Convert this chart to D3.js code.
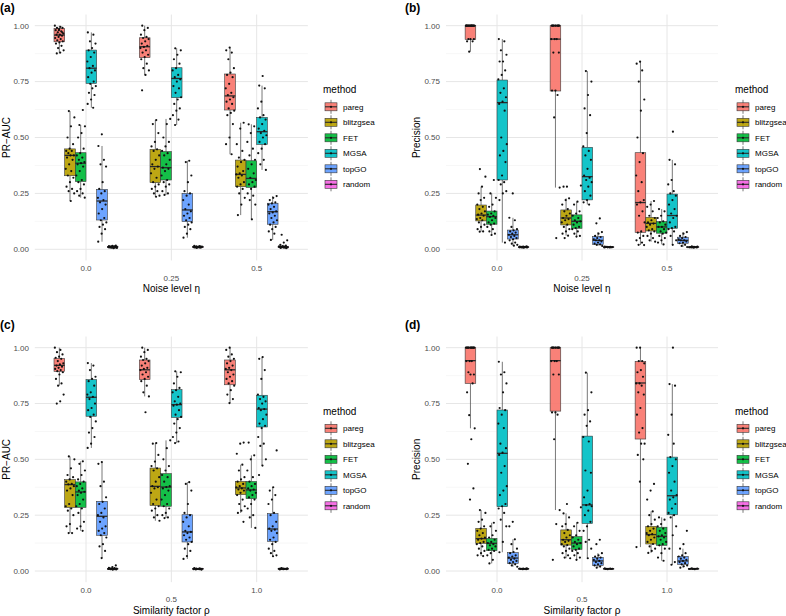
<!DOCTYPE html>
<html><head><meta charset="utf-8">
<script src="https://cdn.jsdelivr.net/npm/d3@7"></script>
<style>body{margin:0;background:#fff} text{font-family:"Liberation Sans",Arial,Helvetica,sans-serif}</style>
</head><body>
<svg id="chart" width="786" height="616"></svg>
<script>
const methods = ["pareg","blitzgsea","FET","MGSA","topGO","random"];
const methodColors = ["#F8766D","#B79F00","#00BA38","#00BFC4","#619CFF","#F564E3"];
const noiseLevels = ["0.0","0.25","0.5"];
const similarityFactors = ["0.0","0.5","1.0"];
const yTicks = [0,0.25,0.5,0.75,1];
const yTickLabels = ["0.00","0.25","0.50","0.75","1.00"];
const yMinor = [0.125,0.375,0.625,0.875];

// box stats: [lower whisker, q1, median, q3, upper whisker], per category, per method
const aucNoiseStats = [
 [[0.876,0.928,0.958,0.988,1.0],[0.216,0.329,0.42,0.449,0.618],[0.231,0.303,0.385,0.432,0.556],[0.633,0.742,0.81,0.891,0.97],[0.034,0.131,0.216,0.268,0.462],[0.005,0.008,0.01,0.013,0.016]],
 [[0.779,0.857,0.906,0.946,1.0],[0.235,0.298,0.37,0.447,0.578],[0.243,0.31,0.365,0.437,0.583],[0.556,0.678,0.764,0.812,0.899],[0.052,0.124,0.176,0.25,0.396],[0.006,0.008,0.01,0.012,0.015]],
 [[0.425,0.623,0.686,0.784,0.902],[0.153,0.28,0.335,0.399,0.566],[0.134,0.277,0.317,0.396,0.559],[0.355,0.469,0.526,0.59,0.732],[0.042,0.112,0.168,0.206,0.238],[0.005,0.008,0.01,0.013,0.02]]
];
const aucNoisePoints = [
 [[1.0,0.995,0.99,0.99,0.985,0.98,0.975,0.97,0.965,0.96,0.96,0.955,0.95,0.945,0.94,0.935,0.93,0.925,0.92,0.91,0.9,0.89,0.88,0.876,0.97,0.98],
  [0.618,0.59,0.55,0.5,0.47,0.45,0.44,0.44,0.43,0.42,0.42,0.41,0.4,0.38,0.36,0.35,0.33,0.32,0.3,0.28,0.27,0.26,0.25,0.216],
  [0.623,0.556,0.55,0.52,0.5,0.45,0.43,0.42,0.41,0.4,0.39,0.385,0.38,0.37,0.35,0.33,0.31,0.3,0.29,0.27,0.26,0.25,0.24,0.231],
  [0.97,0.96,0.93,0.92,0.9,0.89,0.88,0.86,0.84,0.82,0.81,0.8,0.79,0.77,0.75,0.74,0.73,0.72,0.7,0.69,0.67,0.65,0.633],
  [0.514,0.462,0.4,0.38,0.37,0.3,0.27,0.26,0.25,0.23,0.22,0.21,0.2,0.18,0.16,0.14,0.13,0.12,0.11,0.1,0.09,0.07,0.034],
  [0.016,0.015,0.014,0.013,0.013,0.012,0.012,0.011,0.011,0.01,0.01,0.01,0.009,0.009,0.008,0.008,0.007,0.007,0.006,0.005]],
 [[1.0,0.99,0.98,0.96,0.95,0.945,0.94,0.93,0.92,0.91,0.905,0.9,0.89,0.88,0.87,0.86,0.85,0.83,0.81,0.8,0.78,0.711],
  [0.578,0.56,0.52,0.48,0.46,0.447,0.44,0.42,0.4,0.38,0.37,0.36,0.34,0.32,0.3,0.29,0.28,0.27,0.26,0.25,0.24,0.235],
  [0.583,0.56,0.5,0.48,0.46,0.44,0.43,0.42,0.4,0.38,0.365,0.36,0.35,0.33,0.31,0.3,0.29,0.28,0.26,0.25,0.243],
  [0.899,0.89,0.87,0.85,0.83,0.81,0.8,0.78,0.77,0.76,0.75,0.73,0.72,0.7,0.68,0.67,0.65,0.63,0.62,0.6,0.58,0.556],
  [0.396,0.39,0.33,0.3,0.26,0.25,0.24,0.22,0.2,0.18,0.17,0.16,0.15,0.14,0.13,0.12,0.11,0.1,0.09,0.07,0.052],
  [0.015,0.014,0.013,0.012,0.012,0.011,0.011,0.01,0.01,0.01,0.009,0.009,0.008,0.008,0.007,0.006]],
 [[0.902,0.89,0.88,0.85,0.81,0.79,0.78,0.77,0.74,0.72,0.7,0.69,0.68,0.67,0.66,0.65,0.63,0.62,0.61,0.6,0.56,0.5,0.47,0.425],
  [0.566,0.54,0.47,0.44,0.41,0.4,0.39,0.37,0.35,0.34,0.335,0.33,0.32,0.3,0.29,0.28,0.27,0.25,0.23,0.2,0.153],
  [0.559,0.55,0.52,0.48,0.45,0.42,0.4,0.38,0.36,0.34,0.32,0.31,0.3,0.29,0.28,0.27,0.25,0.24,0.22,0.2,0.134],
  [0.775,0.732,0.72,0.66,0.63,0.6,0.59,0.58,0.56,0.54,0.53,0.52,0.51,0.5,0.48,0.47,0.45,0.43,0.4,0.38,0.355],
  [0.238,0.23,0.22,0.21,0.205,0.2,0.19,0.18,0.17,0.165,0.16,0.15,0.14,0.13,0.12,0.11,0.1,0.09,0.08,0.07,0.042],
  [0.065,0.04,0.03,0.02,0.016,0.014,0.013,0.012,0.011,0.01,0.01,0.01,0.009,0.009,0.008,0.007,0.006,0.005]]
];

const precNoiseStats = [
 [[0.884,0.939,1.0,1.0,1.0],[0.079,0.127,0.153,0.198,0.28],[0.064,0.112,0.146,0.171,0.25],[0.03,0.31,0.656,0.757,0.94],[0.016,0.046,0.065,0.086,0.141],[0.007,0.008,0.01,0.011,0.013]],
 [[0.276,0.708,0.94,1.0,1.0],[0.061,0.109,0.14,0.176,0.228],[0.057,0.094,0.125,0.154,0.213],[0.2,0.221,0.325,0.456,0.797],[0.015,0.022,0.04,0.057,0.077],[0.008,0.009,0.01,0.011,0.012]],
 [[0.019,0.076,0.209,0.432,0.839],[0.034,0.082,0.116,0.143,0.216],[0.022,0.072,0.1,0.124,0.18],[0.02,0.094,0.151,0.247,0.4],[0.01,0.027,0.04,0.054,0.077],[0.007,0.008,0.01,0.011,0.013]]
];
const precNoisePoints = [
 [[1,1,1,1,1,1,1,1,1,1,1,1,1,1,1,0.94,0.94,0.94,0.93,0.93,0.884],
  [0.359,0.325,0.28,0.25,0.23,0.22,0.2,0.19,0.18,0.17,0.16,0.155,0.15,0.14,0.135,0.13,0.12,0.11,0.1,0.09,0.08,0.079],
  [0.31,0.25,0.23,0.2,0.19,0.17,0.16,0.155,0.15,0.145,0.14,0.13,0.12,0.115,0.11,0.1,0.09,0.08,0.07,0.064],
  [0.94,0.93,0.89,0.87,0.84,0.84,0.8,0.78,0.76,0.72,0.7,0.68,0.66,0.65,0.62,0.5,0.47,0.44,0.42,0.39,0.33,0.31,0.3,0.29,0.26,0.25,0.22,0.03],
  [0.25,0.141,0.13,0.1,0.09,0.085,0.08,0.075,0.07,0.065,0.06,0.055,0.05,0.045,0.04,0.03,0.025,0.02,0.016],
  [0.013,0.012,0.012,0.011,0.011,0.01,0.01,0.01,0.01,0.009,0.009,0.009,0.008,0.008,0.007]],
 [[1,1,1,1,1,1,1,1,1,1,0.94,0.94,0.94,0.88,0.88,0.71,0.71,0.69,0.59,0.276,0.05],
  [0.28,0.28,0.228,0.22,0.2,0.18,0.17,0.16,0.15,0.14,0.135,0.13,0.12,0.11,0.1,0.09,0.08,0.07,0.061,0.05],
  [0.285,0.213,0.2,0.17,0.16,0.15,0.14,0.13,0.125,0.12,0.11,0.1,0.095,0.09,0.08,0.07,0.06,0.057],
  [0.797,0.75,0.69,0.63,0.6,0.52,0.46,0.44,0.42,0.4,0.36,0.33,0.32,0.31,0.3,0.28,0.26,0.24,0.22,0.21,0.2],
  [0.138,0.116,0.077,0.07,0.06,0.055,0.05,0.045,0.04,0.04,0.035,0.03,0.025,0.022,0.02,0.015],
  [0.012,0.011,0.011,0.01,0.01,0.01,0.009,0.009,0.008,0.008]],
 [[0.839,0.83,0.8,0.75,0.67,0.62,0.5,0.43,0.39,0.33,0.3,0.26,0.22,0.21,0.2,0.17,0.15,0.12,0.08,0.075,0.06,0.05,0.04,0.03,0.02,0.019],
  [0.216,0.2,0.19,0.17,0.15,0.14,0.13,0.12,0.115,0.11,0.1,0.09,0.085,0.08,0.07,0.06,0.05,0.04,0.034],
  [0.18,0.17,0.15,0.14,0.125,0.12,0.11,0.1,0.1,0.09,0.08,0.075,0.07,0.06,0.05,0.04,0.03,0.022],
  [0.526,0.4,0.38,0.31,0.29,0.26,0.25,0.24,0.22,0.2,0.18,0.16,0.15,0.14,0.12,0.1,0.095,0.09,0.08,0.06,0.04,0.02],
  [0.077,0.07,0.06,0.055,0.05,0.045,0.04,0.04,0.035,0.03,0.027,0.02,0.015,0.01],
  [0.013,0.012,0.011,0.01,0.01,0.01,0.009,0.009,0.008,0.008,0.007]]
];

const aucSimStats = [
 [[0.83,0.894,0.921,0.951,1.0],[0.17,0.285,0.387,0.409,0.513],[0.18,0.285,0.354,0.399,0.491],[0.551,0.693,0.778,0.857,0.931],[0.058,0.16,0.245,0.312,0.488],[0.006,0.008,0.01,0.012,0.018]],
 [[0.782,0.857,0.901,0.945,1.0],[0.225,0.293,0.379,0.461,0.573],[0.237,0.29,0.376,0.436,0.585],[0.573,0.688,0.745,0.812,0.894],[0.054,0.13,0.175,0.252,0.398],[0.006,0.008,0.01,0.011,0.013]],
 [[0.752,0.834,0.901,0.945,1.0],[0.26,0.342,0.372,0.401,0.476],[0.193,0.324,0.363,0.401,0.518],[0.472,0.645,0.725,0.787,0.958],[0.066,0.133,0.188,0.257,0.375],[0.007,0.008,0.01,0.011,0.013]]
];
const aucSimPoints = [
 [[1.0,0.99,0.98,0.97,0.96,0.955,0.95,0.94,0.93,0.925,0.92,0.915,0.91,0.905,0.9,0.895,0.89,0.88,0.86,0.84,0.83,0.79,0.76,0.75],
  [0.513,0.5,0.46,0.43,0.42,0.41,0.4,0.39,0.388,0.38,0.37,0.36,0.34,0.3,0.29,0.28,0.27,0.25,0.21,0.2,0.17,0.17],
  [0.491,0.48,0.45,0.43,0.41,0.4,0.39,0.38,0.37,0.36,0.355,0.35,0.34,0.32,0.3,0.29,0.28,0.26,0.22,0.2,0.19,0.18],
  [0.931,0.92,0.9,0.87,0.86,0.85,0.83,0.8,0.79,0.78,0.77,0.75,0.73,0.72,0.7,0.69,0.67,0.64,0.62,0.6,0.57,0.551],
  [0.488,0.48,0.4,0.38,0.33,0.31,0.3,0.28,0.26,0.25,0.24,0.22,0.2,0.19,0.18,0.17,0.16,0.15,0.12,0.11,0.09,0.058],
  [0.025,0.018,0.014,0.013,0.012,0.011,0.01,0.01,0.01,0.009,0.009,0.008,0.008,0.007,0.006]],
 [[1.0,0.99,0.98,0.96,0.95,0.945,0.94,0.93,0.92,0.91,0.905,0.9,0.89,0.88,0.87,0.86,0.85,0.83,0.8,0.782,0.711],
  [0.573,0.57,0.52,0.49,0.47,0.46,0.45,0.42,0.4,0.38,0.375,0.37,0.35,0.32,0.3,0.29,0.28,0.27,0.25,0.24,0.225],
  [0.585,0.55,0.5,0.47,0.45,0.43,0.42,0.4,0.38,0.376,0.37,0.36,0.34,0.32,0.3,0.29,0.28,0.26,0.25,0.24,0.237],
  [0.894,0.89,0.87,0.84,0.82,0.81,0.8,0.78,0.76,0.75,0.745,0.74,0.72,0.7,0.69,0.68,0.66,0.64,0.62,0.6,0.58,0.573],
  [0.398,0.39,0.36,0.3,0.26,0.25,0.24,0.22,0.2,0.18,0.175,0.17,0.16,0.15,0.14,0.13,0.12,0.1,0.09,0.067,0.054],
  [0.013,0.012,0.011,0.01,0.01,0.01,0.009,0.009,0.008,0.008,0.007,0.006]],
 [[1.0,0.99,0.97,0.96,0.95,0.94,0.93,0.92,0.91,0.905,0.9,0.89,0.88,0.87,0.86,0.85,0.84,0.83,0.81,0.79,0.77,0.752],
  [0.575,0.57,0.525,0.476,0.45,0.42,0.41,0.4,0.39,0.38,0.375,0.37,0.365,0.36,0.35,0.34,0.32,0.3,0.29,0.27,0.26,0.22],
  [0.575,0.518,0.5,0.45,0.42,0.4,0.39,0.38,0.37,0.365,0.36,0.35,0.34,0.33,0.32,0.3,0.28,0.25,0.24,0.193],
  [0.958,0.95,0.9,0.86,0.79,0.78,0.77,0.76,0.75,0.73,0.725,0.72,0.7,0.68,0.66,0.65,0.64,0.6,0.57,0.56,0.5,0.472,0.43],
  [0.54,0.375,0.36,0.34,0.32,0.3,0.26,0.25,0.22,0.2,0.19,0.185,0.18,0.17,0.15,0.14,0.13,0.12,0.1,0.09,0.08,0.07,0.066],
  [0.013,0.012,0.011,0.011,0.01,0.01,0.01,0.009,0.009,0.008,0.008,0.007]]
];

const precSimStats = [
 [[0.639,0.84,0.942,1.0,1.0],[0.067,0.124,0.145,0.191,0.273],[0.034,0.091,0.124,0.146,0.216],[0.084,0.288,0.527,0.721,0.937],[0.019,0.034,0.058,0.082,0.142],[0.008,0.009,0.01,0.011,0.012]],
 [[0.273,0.716,0.942,1.0,1.0],[0.057,0.116,0.14,0.184,0.258],[0.05,0.097,0.125,0.154,0.216],[0.057,0.213,0.296,0.604,0.888],[0.015,0.025,0.045,0.061,0.08],[0.008,0.009,0.01,0.011,0.012]],
 [[0.107,0.591,0.842,0.939,1.0],[0.081,0.121,0.163,0.2,0.267],[0.046,0.115,0.155,0.196,0.24],[0.028,0.252,0.337,0.51,0.837],[0.015,0.03,0.045,0.065,0.1],[0.008,0.009,0.01,0.011,0.012]]
];
const precSimPoints = [
 [[1,1,1,1,1,1,1,1,1,1,1,1,0.94,0.94,0.94,0.89,0.88,0.88,0.8,0.84,0.698,0.639,0.59,0.48,0.37,0.32],
  [0.273,0.26,0.23,0.22,0.2,0.19,0.18,0.17,0.16,0.15,0.145,0.14,0.13,0.125,0.12,0.11,0.1,0.09,0.08,0.07,0.067],
  [0.216,0.2,0.18,0.16,0.15,0.14,0.13,0.125,0.12,0.115,0.11,0.1,0.095,0.09,0.08,0.07,0.05,0.034],
  [0.937,0.89,0.88,0.84,0.8,0.73,0.72,0.7,0.66,0.64,0.57,0.55,0.53,0.52,0.47,0.44,0.38,0.36,0.34,0.3,0.29,0.28,0.26,0.23,0.2,0.13,0.084],
  [0.22,0.2,0.142,0.12,0.1,0.085,0.08,0.07,0.065,0.06,0.055,0.05,0.045,0.04,0.035,0.03,0.025,0.019],
  [0.012,0.011,0.011,0.01,0.01,0.01,0.009,0.009,0.008,0.008]],
 [[1,1,1,1,1,1,1,1,1,1,0.94,0.94,0.94,0.88,0.88,0.71,0.71,0.7,0.59,0.273,0.21,0.05],
  [0.3,0.258,0.24,0.21,0.2,0.184,0.17,0.16,0.15,0.14,0.135,0.13,0.12,0.116,0.11,0.1,0.09,0.08,0.07,0.06,0.057],
  [0.285,0.216,0.2,0.18,0.16,0.15,0.14,0.13,0.125,0.12,0.11,0.1,0.095,0.09,0.08,0.07,0.06,0.05],
  [0.888,0.8,0.72,0.7,0.67,0.65,0.6,0.58,0.45,0.44,0.36,0.33,0.3,0.295,0.29,0.27,0.25,0.22,0.2,0.18,0.14,0.13,0.1,0.057],
  [0.14,0.12,0.08,0.07,0.065,0.06,0.055,0.05,0.045,0.04,0.035,0.03,0.025,0.02,0.015],
  [0.012,0.011,0.01,0.01,0.01,0.009,0.009,0.008]],
 [[1,1,0.94,0.94,0.93,0.9,0.89,0.87,0.84,0.84,0.83,0.8,0.79,0.73,0.7,0.64,0.62,0.57,0.57,0.52,0.5,0.4,0.107],
  [0.39,0.36,0.32,0.267,0.25,0.23,0.21,0.2,0.19,0.18,0.17,0.165,0.16,0.15,0.14,0.13,0.121,0.11,0.1,0.09,0.081],
  [0.24,0.23,0.21,0.2,0.19,0.18,0.17,0.16,0.155,0.15,0.14,0.13,0.12,0.115,0.1,0.08,0.06,0.046],
  [1.0,0.837,0.83,0.7,0.61,0.57,0.51,0.5,0.47,0.44,0.4,0.36,0.34,0.33,0.32,0.3,0.28,0.26,0.25,0.24,0.2,0.16,0.1,0.04,0.028],
  [0.18,0.12,0.1,0.08,0.07,0.065,0.06,0.055,0.05,0.045,0.04,0.035,0.03,0.025,0.021,0.015],
  [0.012,0.011,0.01,0.01,0.01,0.009,0.009,0.008]]
];

const panels = [
 {tag:"(a)", ylab:"PR\u2212AUC", xlab:"Noise level \u03b7", cats:noiseLevels, stats:aucNoiseStats, pts:aucNoisePoints,
  l:34.8, r:307.9, yZero:249.3, yOne:25.7, tagX:0, tagY:8, ylabX:6, tickX:29, legX:323, legY:89.5, xt1:268.5, xt2:278, xlY:288.5},
 {tag:"(b)", ylab:"Precision", xlab:"Noise level \u03b7", cats:noiseLevels, stats:precNoiseStats, pts:precNoisePoints,
  l:446, r:718, yZero:249.3, yOne:25.7, tagX:405, tagY:8, ylabX:416.5, tickX:440, legX:735, legY:89.5, xt1:268.5, xt2:278, xlY:288.5},
 {tag:"(c)", ylab:"PR\u2212AUC", xlab:"Similarity factor \u03c1", cats:similarityFactors, stats:aucSimStats, pts:aucSimPoints,
  l:34.8, r:307.9, yZero:571, yOne:347.7, tagX:0, tagY:325, ylabX:6, tickX:29, legX:323, legY:411, xt1:590, xt2:599.5, xlY:610.5},
 {tag:"(d)", ylab:"Precision", xlab:"Similarity factor \u03c1", cats:similarityFactors, stats:precSimStats, pts:precSimPoints,
  l:446, r:718, yZero:571, yOne:347.7, tagX:405, tagY:325, ylabX:416.5, tickX:440, legX:735, legY:411, xt1:590, xt2:599.5, xlY:610.5}
];

const svg = d3.select("#chart");
const color = d3.scaleOrdinal().domain(methods).range(methodColors);

panels.forEach(p => {
  const g = svg.append("g");
  const y = d3.scaleLinear().domain([0,1]).range([p.yZero, p.yOne]);
  const span = p.yZero - p.yOne;
  const top = p.yOne - 0.05*span, bottom = p.yZero + 0.05*span;
  const x = d3.scaleBand().domain(p.cats).range([p.l, p.r]).paddingInner(0).paddingOuter(0.1);
  const step = x.bandwidth();
  const dodge = d3.scaleBand().domain(methods).range([-0.375*step, 0.375*step]).padding(0);
  const bw = dodge.bandwidth();

  // grid
  g.selectAll(".minor").data(yMinor).join("line")
    .attr("x1", p.l).attr("x2", p.r).attr("y1", d=>y(d)).attr("y2", d=>y(d))
    .attr("stroke", "#F1F1F1").attr("stroke-width", 0.6);
  g.selectAll(".major").data(yTicks).join("line")
    .attr("x1", p.l).attr("x2", p.r).attr("y1", d=>y(d)).attr("y2", d=>y(d))
    .attr("stroke", "#E6E6E6").attr("stroke-width", 1);
  g.selectAll(".vmajor").data(p.cats).join("line")
    .attr("x1", d=>x(d)+step/2).attr("x2", d=>x(d)+step/2).attr("y1", top).attr("y2", bottom)
    .attr("stroke", "#E6E6E6").attr("stroke-width", 1);

  // y ticks
  g.selectAll(".ytl").data(yTicks).join("text")
    .attr("x", p.tickX).attr("y", d=>y(d)).attr("dy","0.35em").attr("text-anchor","end")
    .attr("font-size", 8).attr("fill", "#4D4D4D").text((d,i)=>yTickLabels[i]);
  // x ticks (dodged in two rows)
  g.selectAll(".xtl").data(p.cats).join("text")
    .attr("x", d=>x(d)+step/2).attr("y", (d,i)=> i%2===0 ? p.xt1 : p.xt2).attr("dy","0.35em")
    .attr("text-anchor","middle").attr("font-size", 8).attr("fill","#4D4D4D").text(d=>d);
  // axis titles
  g.append("text").attr("x", (p.l+p.r)/2).attr("y", p.xlY).attr("dy","0.35em").attr("text-anchor","middle")
    .attr("font-size", 10).attr("fill","#000").text(p.xlab);
  g.append("text").attr("transform", `translate(${p.ylabX},${(top+bottom)/2}) rotate(-90)`).attr("dy","0.35em")
    .attr("text-anchor","middle").attr("font-size", 10).attr("fill","#000").text(p.ylab);
  g.append("text").attr("x", p.tagX).attr("y", p.tagY).attr("dy","0.35em").attr("font-size", 12)
    .attr("font-weight","bold").attr("fill","#000").text(p.tag);

  // boxes
  p.cats.forEach((c, ci) => {
    methods.forEach((m, mi) => {
      const s = p.stats[ci][mi];
      const cx = x(c) + step/2 + dodge(m) + bw/2;
      const bg = g.append("g");
      bg.append("line").attr("x1",cx).attr("x2",cx).attr("y1",y(s[4])).attr("y2",y(s[3]))
        .attr("stroke","#555").attr("stroke-width",0.8);
      bg.append("line").attr("x1",cx).attr("x2",cx).attr("y1",y(s[1])).attr("y2",y(s[0]))
        .attr("stroke","#555").attr("stroke-width",0.8);
      bg.append("rect").attr("x", cx-bw/2).attr("width", bw)
        .attr("y", y(s[3])).attr("height", Math.max(0.6, y(s[1])-y(s[3])))
        .attr("fill", color(m)).attr("fill-opacity",0.92).attr("stroke","#3a3a3a").attr("stroke-width",0.6);
      bg.append("line").attr("x1",cx-bw/2).attr("x2",cx+bw/2).attr("y1",y(s[2])).attr("y2",y(s[2]))
        .attr("stroke","#2a2a2a").attr("stroke-width",1.3);
    });
  });
  // jittered points
  p.cats.forEach((c, ci) => {
    methods.forEach((m, mi) => {
      const cx = x(c) + step/2 + dodge(m) + bw/2;
      const jw = bw*0.42;
      const pts = p.pts[ci][mi];
      g.selectAll(null).data(pts).join("circle")
        .attr("cx", (d,i)=> cx + (((i*0.6180339887 + mi*0.37 + ci*0.23) % 1) - 0.5)*2*jw)
        .attr("cy", d=>y(d)).attr("r", 1.1).attr("fill","#111");
    });
  });

  // legend
  const lg = g.append("g");
  lg.append("text").attr("x", p.legX).attr("y", p.legY).attr("dy","0.35em").attr("font-size",10)
    .attr("fill","#000").text("method");
  methods.forEach((m, i) => {
    const ky = p.legY + 17.3 + i*15.5;
    const kx = p.legX + 2;
    lg.append("line").attr("x1",kx+6).attr("x2",kx+6).attr("y1",ky-7).attr("y2",ky+7)
      .attr("stroke","#555").attr("stroke-width",0.8);
    lg.append("rect").attr("x",kx).attr("y",ky-4).attr("width",12).attr("height",8)
      .attr("fill",color(m)).attr("fill-opacity",0.92).attr("stroke","#3a3a3a").attr("stroke-width",0.6);
    lg.append("line").attr("x1",kx).attr("x2",kx+12).attr("y1",ky).attr("y2",ky)
      .attr("stroke","#2a2a2a").attr("stroke-width",1.1);
    lg.append("circle").attr("cx",kx+6).attr("cy",ky).attr("r",1.1).attr("fill","#111");
    lg.append("text").attr("x",kx+18).attr("y",ky).attr("dy","0.35em").attr("font-size",8)
      .attr("fill","#000").text(m);
  });
});
</script>
</body></html>
